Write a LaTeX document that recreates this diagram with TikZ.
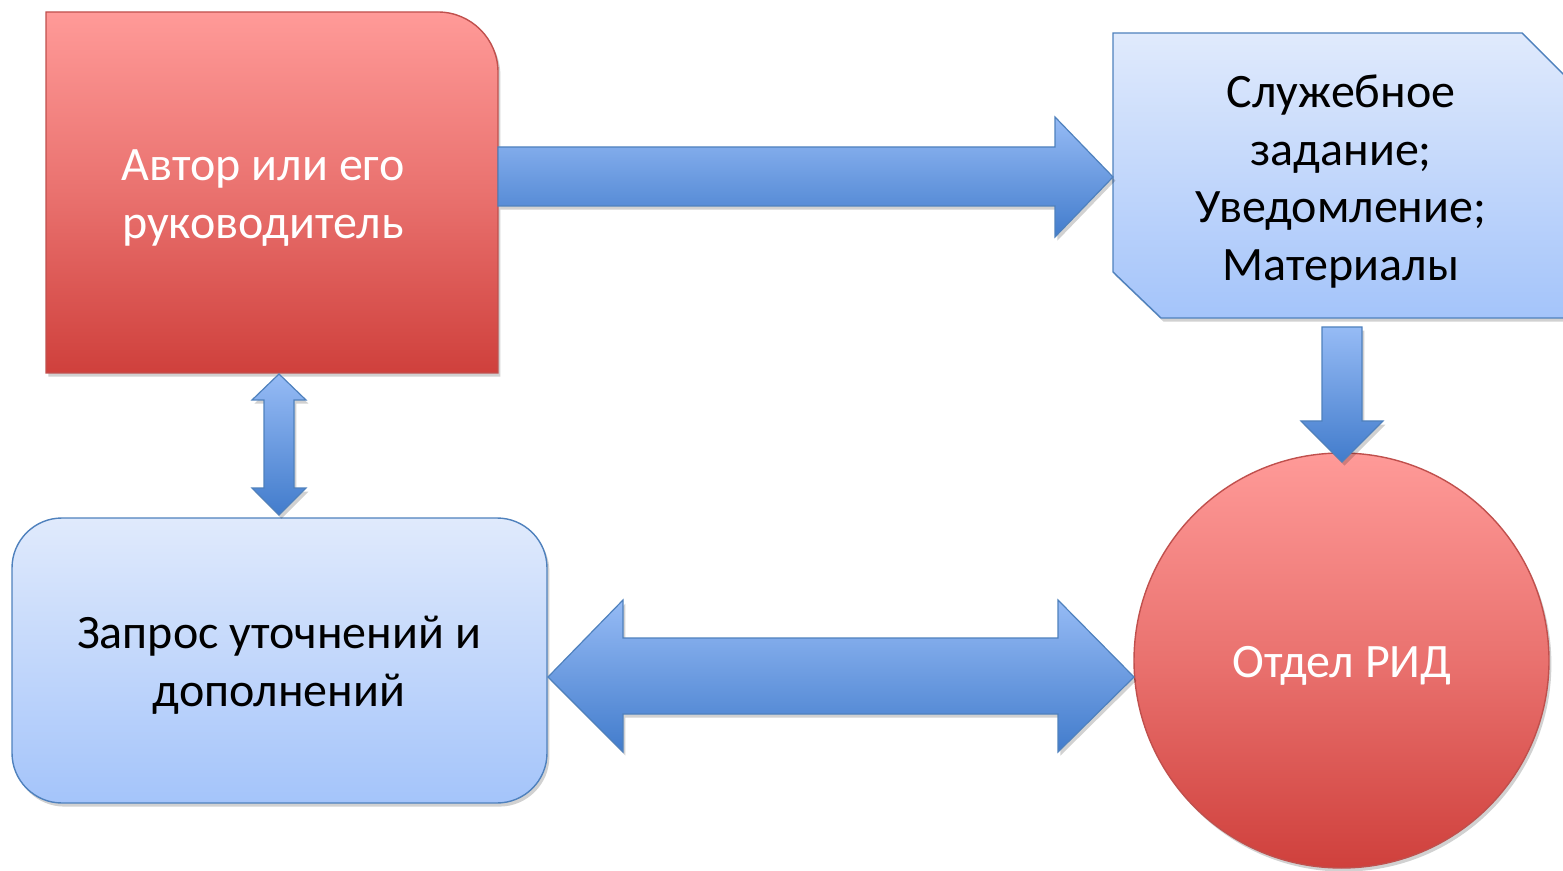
\documentclass[tikz,border=0pt]{standalone}
\usepackage{fontspec}
\setmainfont{Carlito}
\usetikzlibrary{shadows}
\definecolor{redtop}{RGB}{255,154,152}
\definecolor{redbot}{RGB}{207,64,60}
\definecolor{redline}{RGB}{192,80,77}
\definecolor{bluetop}{RGB}{224,234,252}
\definecolor{bluebot}{RGB}{164,196,250}
\definecolor{blueline}{RGB}{79,129,189}
\definecolor{arrtop}{RGB}{150,187,245}
\definecolor{arrbot}{RGB}{66,124,204}
\newcommand\diagfs{\fontsize{24pt}{28.8pt}\selectfont}
\tikzset{
  shd/.style={drop shadow={shadow xshift=1.2pt, shadow yshift=-1.8pt, opacity=0.18, fill=black}},
  redshape/.style={shd, draw=redline, line width=0.7pt, top color=redtop, bottom color=redbot, middle color=redtop!55!redbot},
  blueshape/.style={shd, draw=blueline, line width=0.7pt, top color=bluetop, bottom color=bluebot},
  blockarrow/.style={shd, draw=blueline, line width=0.6pt, top color=arrtop, bottom color=arrbot},
  lbl/.style={font=\diagfs, align=center, inner sep=0pt}
}
\begin{document}
\begin{tikzpicture}[x=0.5pt,y=-0.5pt]
\useasboundingbox (0,0) rectangle (1563,871);
\clip (0,0) rectangle (1563,871);
% shapes
\path[redshape] (46,373) -- (46,12) -- (438,12) .. controls (471,12) and (498,39) .. (498,72) -- (498,373) -- cycle;
\path[blueshape] (1113,33) -- (1522,33) -- (1570,81) -- (1570,318) -- (1161,318) -- (1113,272) -- cycle;
\path[blueshape, rounded corners=25pt] (12,518) rectangle (547,803);
\path[redshape] (1341.5,660.5) circle [radius=103.75pt];
% labels
\node[lbl, white] (author) at (263,198) {Автор или его\\руководитель};
\node[lbl, black] (docs) at (1341,181.5) {Служебное\\задание;\\Уведомление;\\Материалы};
\node[lbl, black] (query) at (279,665) {Запрос уточнений и\\дополнений};
\node[lbl, white] (rid) at (1342,666) {Отдел РИД};
% connectors (block arrows)
\path[blockarrow] (498,147) -- (1055,147) -- (1055,117) -- (1113,177) -- (1055,237) -- (1055,206) -- (498,206) -- cycle;
\path[blockarrow] (1322,327) -- (1362,327) -- (1362,421) -- (1383,421) -- (1342,462) -- (1301,421) -- (1322,421) -- cycle;
\path[blockarrow] (279,374) -- (306,400) -- (294,400) -- (294,488) -- (306,488) -- (279,515) -- (252,488) -- (264,488) -- (264,400) -- (252,400) -- cycle;
\path[blockarrow] (548,677) -- (623,600) -- (623,638) -- (1058,638) -- (1058,600) -- (1134,677) -- (1058,752) -- (1058,714) -- (623,714) -- (623,752) -- cycle;
\end{tikzpicture}
\end{document}
